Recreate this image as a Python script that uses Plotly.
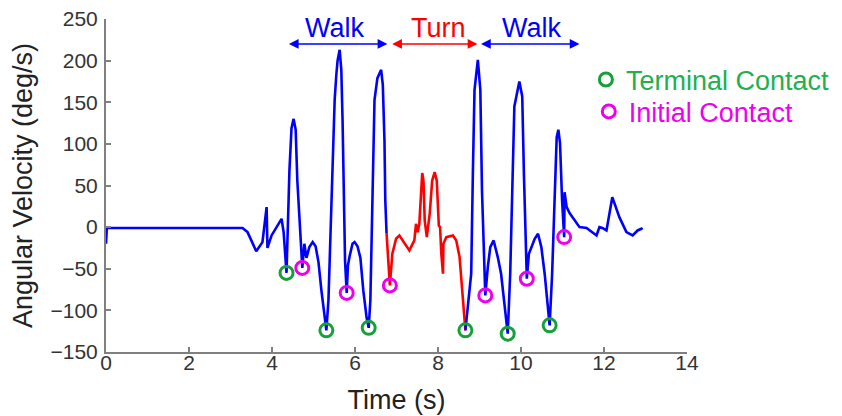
import plotly.graph_objects as go

# ---------------- data ----------------
walk1_time = [0.00, 0.02, 3.29, 3.41, 3.62, 3.77, 3.87, 3.89, 3.99, 4.23, 4.28, 4.35,
              4.42, 4.47, 4.52, 4.57, 4.61, 4.69, 4.73, 4.78, 4.83, 4.90, 4.98, 5.05,
              5.12, 5.19, 5.27, 5.31, 5.36, 5.43, 5.51, 5.55, 5.58, 5.63, 5.67, 5.70,
              5.73, 5.76, 5.80, 5.83, 5.87, 5.94, 5.99, 6.06, 6.13, 6.20, 6.28, 6.33,
              6.37, 6.42, 6.47, 6.54, 6.63, 6.67, 6.71, 6.73, 6.76]
walk1_vel = [-20, -1, -1, -6, -29, -18, 24, -25, -10, 10, -6, -55,
             68, 119, 130, 117, 56, -16, -49, -20, -37, -24, -18, -23,
             -42, -76, -112, -124, -88, 32, 153, 183, 200, 213, 189, 129,
             32, -40, -79, -46, -35, -20, -18, -23, -37, -76, -109, -121,
             -88, 32, 153, 179, 189, 171, 105, 32, -7]

turn_time = [6.76, 6.84, 6.90, 6.99, 7.07, 7.15, 7.31, 7.43, 7.47, 7.51, 7.55, 7.62,
             7.65, 7.68, 7.73, 7.80, 7.86, 7.92, 7.97, 8.02, 8.05, 8.08, 8.12, 8.13,
             8.20, 8.36, 8.44, 8.52, 8.60, 8.66]
turn_vel = [-7, -70, -32, -14, -10, -16, -28, -16, 4, -6, 4, 65,
            56, 8, -12, 16, 56, 66, 56, 2, 0, -32, -56, -20,
            -12, -10, -16, -36, -88, -124]

walk2_time = [8.66, 8.80, 8.84, 8.88, 8.96, 9.02, 9.06, 9.10, 9.14, 9.20, 9.26, 9.34,
              9.44, 9.52, 9.60, 9.68, 9.74, 9.79, 9.84, 9.96, 10.03, 10.07, 10.11, 10.14,
              10.19, 10.25, 10.33, 10.41, 10.49, 10.57, 10.65, 10.69, 10.75, 10.81, 10.86,
              10.90, 10.94, 10.99, 11.04, 11.05, 11.07, 11.10, 11.17, 11.34, 11.41, 11.58,
              11.72, 11.82, 11.89, 11.96, 12.06, 12.20, 12.37, 12.54, 12.69, 12.81, 12.90,
              12.93]
walk2_vel = [-124, -56, 64, 165, 201, 165, 44, -36, -82, -48, -24, -16,
             -36, -56, -92, -128, -56, 64, 145, 175, 157, 64, -24, -62,
             -32, -24, -14, -8, -24, -56, -96, -118, -56, 44, 108,
             117, 101, 32, -12, 42, 32, 24, 17, 5, 0, -1,
             -6, -10, 0, -1, -4, 36, 12, -6, -10, -4, -2,
             -1]

tc_time = [4.35, 5.31, 6.33, 8.66, 9.68, 10.69]
tc_vel = [-55, -124, -121, -124, -128, -118]
ic_time = [4.73, 5.80, 6.84, 9.14, 10.14, 11.04]
ic_vel = [-49, -79, -70, -82, -62, -12]

phase_names = ["Walk", "Turn", "Walk"]
phase_start = [4.37, 6.86, 9.00]
phase_end = [6.78, 8.95, 11.41]
phase_colors = ["#0000ff", "#ff0000", "#0000ff"]

x_ticks = [0, 2, 4, 6, 8, 10, 12, 14]
y_ticks = [-150, -100, -50, 0, 50, 100, 150, 200, 250]

# ---------------- figure ----------------
FONT = "Liberation Sans, Arial, sans-serif"
BLUE = "#0000ff"
RED = "#ff0000"
GREEN_M = "#15a03a"
GREEN_T = "#22b04e"
MAG = "#ee00ee"

fig = go.Figure()
fig.add_trace(go.Scatter(x=walk1_time, y=walk1_vel, mode="lines",
                         line=dict(color=BLUE, width=2.6), showlegend=False, hoverinfo="skip"))
fig.add_trace(go.Scatter(x=turn_time, y=turn_vel, mode="lines",
                         line=dict(color=RED, width=2.6), showlegend=False, hoverinfo="skip"))
fig.add_trace(go.Scatter(x=walk2_time, y=walk2_vel, mode="lines",
                         line=dict(color=BLUE, width=2.6), showlegend=False, hoverinfo="skip"))
fig.add_trace(go.Scatter(x=tc_time, y=tc_vel, mode="markers", legend="legend",
                         name=f"<span style='color:{GREEN_T}'>Terminal Contact</span>",
                         marker=dict(symbol="circle-open", size=13, color=GREEN_M,
                                     line=dict(width=3, color=GREEN_M))))
fig.add_trace(go.Scatter(x=ic_time, y=ic_vel, mode="markers", legend="legend2",
                         name=f"<span style='color:{MAG}'>Initial Contact</span>",
                         marker=dict(symbol="circle-open", size=13, color=MAG,
                                     line=dict(width=3, color=MAG))))

label_x = [5.50, 8.00, 10.25]
for name, s, e, c, lx in zip(phase_names, phase_start, phase_end, phase_colors, label_x):
    fig.add_annotation(x=e, y=220, ax=s, ay=220, xref="x", yref="y", axref="x", ayref="y",
                       text="", showarrow=True, arrowside="end+start", arrowhead=2,
                       arrowsize=1.3, arrowwidth=1.5, arrowcolor=c)
    fig.add_annotation(x=lx, y=239, xref="x", yref="y", text=name, showarrow=False,
                       font=dict(family=FONT, size=27, color=c), yanchor="middle")

legend_common = dict(xanchor="left", yanchor="middle", font=dict(family=FONT, size=27),
                     bgcolor="rgba(0,0,0,0)", borderwidth=0)

# page has an 8px body margin: plot area is kept at the reference position
fig.update_layout(
    width=842, height=416,
    margin=dict(l=98, r=163, t=11, b=72),
    paper_bgcolor="white", plot_bgcolor="white",
    font=dict(family=FONT, color="#333333"),
    showlegend=True,
    legend=dict(x=0.826, y=0.817, **legend_common),
    legend2=dict(x=0.831, y=0.721, **legend_common),
    xaxis=dict(range=[0, 14], tickvals=x_ticks, ticks="inside", ticklen=5, tickwidth=1.5,
               tickcolor="#808080", showline=True, linecolor="#808080", linewidth=2,
               showgrid=False, zeroline=False, automargin=False, ticklabelstandoff=-9,
               ticklabeloverflow="allow",
               tickfont=dict(family=FONT, size=21, color="#333333"),
               title=dict(text="Time (s)", font=dict(family=FONT, size=27, color="#222222"), standoff=17)),
    yaxis=dict(range=[-150, 250], tickvals=y_ticks, ticks="inside", ticklen=5, tickwidth=1.5,
               tickcolor="#808080", showline=True, linecolor="#808080", linewidth=2,
               showgrid=False, zeroline=False, automargin=False, ticklabeloverflow="allow",
               tickfont=dict(family=FONT, size=21, color="#333333"),
               ticklabelstandoff=2,
               title=dict(text="Angular Velocity (deg/s)", font=dict(family=FONT, size=27, color="#222222"), standoff=16)),
)

fig.write_html("out.html")
